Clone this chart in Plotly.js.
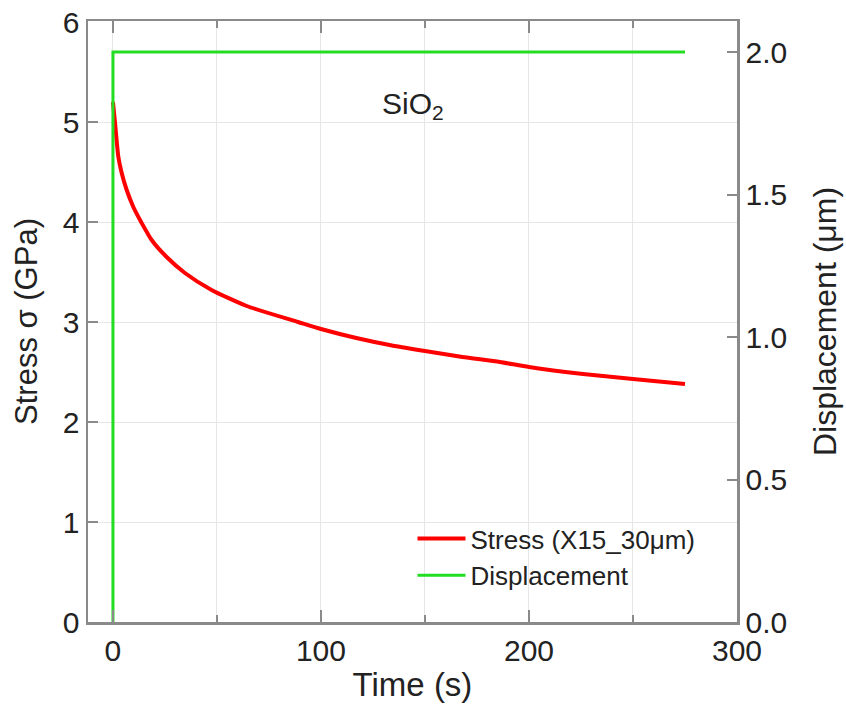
<!DOCTYPE html>
<html>
<head>
<meta charset="utf-8">
<script src="https://cdn.plot.ly/plotly-3.0.1.min.js"></script>
<style>html,body{margin:0;padding:0;background:#fff;}#chart{width:846px;height:708px;}</style>
</head>
<body>
<div id="chart"></div>
<script>
// Stress relaxation data
const stressTime = [0, 1.0, 2.6, 4.2, 6.6, 9.8, 13.8, 18.6, 25.8, 34.6, 47.4, 64.3, 89, 100, 117, 133, 150, 168, 186, 200, 226, 250, 275];
const stressGPa  = [5.20, 4.99, 4.65, 4.49, 4.32, 4.15, 3.99, 3.82, 3.65, 3.49, 3.32, 3.16, 3.00, 2.93, 2.84, 2.77, 2.71, 2.65, 2.60, 2.55, 2.48, 2.43, 2.38];
const dispTime = [0, 0, 275];
const dispUm   = [0, 2.0, 2.0];
const stressName = 'Stress (X15_30μm)';
const dispName = 'Displacement';
const xTickVals = [0, 100, 200, 300];
const yTickVals = [0, 1, 2, 3, 4, 5, 6];
const y2TickVals = [0, 0.5, 1.0, 1.5, 2.0];

const FONT = 'Liberation Sans, Arial, sans-serif';
const AX = '#8a8a8a';
const TXT = '#222';

const traces = [
  {x: stressTime, y: stressGPa, name: stressName, mode: 'lines', type: 'scatter',
   line: {color: '#ff0000', width: 4, shape: 'spline', smoothing: 0.6}, yaxis: 'y'},
  {x: dispTime, y: dispUm, name: dispName, mode: 'lines', type: 'scatter',
   line: {color: '#22dd22', width: 3}, yaxis: 'y2'}
];

const layout = {
  width: 846, height: 708,
  margin: {l: 88, r: 109, t: 21, b: 86},
  paper_bgcolor: '#fff', plot_bgcolor: '#fff',
  font: {family: FONT, color: TXT},
  showlegend: true,
  legend: {x: 0.500, y: 0.178, xanchor: 'left', yanchor: 'top', bgcolor: 'rgba(0,0,0,0)',
           font: {size: 26, family: FONT, color: TXT}, itemwidth: 48},
  xaxis: {
    range: [-12, 300], tickvals: xTickVals, ticks: 'inside', ticklen: 12, tickwidth: 2, tickcolor: AX,
    showline: true, linecolor: AX, linewidth: 2.5, mirror: 'ticks',
    showgrid: true, gridcolor: '#e6e6e6', gridwidth: 1, zeroline: false,
    minor: {dtick: 50, tick0: 0, ticks: 'inside', ticklen: 7, tickwidth: 2, tickcolor: AX, showgrid: true, gridcolor: '#e6e6e6', gridwidth: 1},
    tickfont: {size: 30, family: FONT, color: TXT},
    title: {text: 'Time (s)', font: {size: 33, family: FONT, color: TXT}, standoff: 8}
  },
  yaxis: {
    range: [0, 6.01], tickvals: yTickVals, ticks: 'inside', ticklen: 10, tickwidth: 2, tickcolor: AX,
    showline: true, linecolor: AX, linewidth: 2.5,
    showgrid: true, gridcolor: '#e6e6e6', gridwidth: 1, zeroline: false,
    tickfont: {size: 30, family: FONT, color: TXT},
    title: {text: 'Stress σ (GPa)', font: {size: 31, family: FONT, color: TXT}, standoff: 16}
  },
  yaxis2: {
    overlaying: 'y', side: 'right',
    range: [0, 2.109], tickvals: y2TickVals, tickformat: '.1f', ticks: 'inside', ticklen: 10, tickwidth: 2, tickcolor: AX,
    showline: true, linecolor: AX, linewidth: 2.5,
    showgrid: false, zeroline: false,
    tickfont: {size: 30, family: FONT, color: TXT},
    title: {text: 'Displacement (μm)', font: {size: 32, family: FONT, color: TXT}, standoff: 28}
  },
  annotations: [{
    text: 'SiO<sub>2</sub>', xref: 'paper', yref: 'paper', x: 0.5, y: 0.893,
    showarrow: false, font: {size: 30, family: FONT, color: TXT}
  }]
};

Plotly.newPlot('chart', traces, layout, {displayModeBar: false, staticPlot: true});
</script>
</body>
</html>
